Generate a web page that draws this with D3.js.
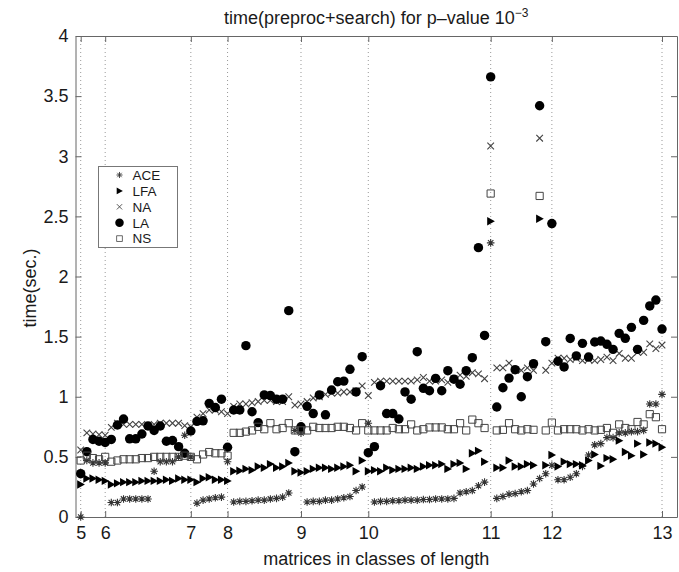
<!DOCTYPE html>
<html>
<head>
<meta charset="utf-8">
<script src="https://cdn.jsdelivr.net/npm/d3@7"></script>
<style>
body { margin: 0; background: #fff; }
text { font-family: "Liberation Sans", Arial, Helvetica, sans-serif; fill: #1a1a1a; }
</style>
</head>
<body>
<div id="drawArea"></div>
<script>
// class labels and the matrix index where each class starts
var classLabels = ["5", "6", "7", "8", "9", "10", "11", "12", "13"];
var classStart = [1, 5, 19, 25, 37, 48, 68, 78, 96];
var yTicks = [0, 0.5, 1, 1.5, 2, 2.5, 3, 3.5, 4];
var yTickLabels = ["0", "0.5", "1", "1.5", "2", "2.5", "3", "3.5", "4"];

// time (sec.) per matrix, one value per matrix index 1..96
var ace = [0.0, 0.47, 0.45, 0.45, 0.45,
	0.12, 0.12, 0.15, 0.15, 0.15, 0.15, 0.15, 0.38, 0.46, 0.46, 0.46, 0.5, 0.68,
	0.5, 0.115, 0.14, 0.15, 0.16, 0.165,
	0.46, 0.125, 0.13, 0.13, 0.135, 0.14, 0.14, 0.15, 0.155, 0.165, 0.2, 0.72,
	0.7, 0.125, 0.13, 0.13, 0.14, 0.14, 0.15, 0.16, 0.17, 0.22, 0.25,
	0.78, 0.125, 0.13, 0.13, 0.135, 0.135, 0.14, 0.14, 0.14, 0.145, 0.145, 0.15, 0.15, 0.15, 0.155, 0.2, 0.21, 0.22, 0.26, 0.29,
	2.28, 0.155, 0.17, 0.19, 0.195, 0.21, 0.22, 0.275, 0.32, 0.36,
	0.43, 0.31, 0.31, 0.33, 0.36, 0.42, 0.515, 0.6, 0.61, 0.66, 0.66, 0.70, 0.70, 0.71, 0.71, 0.72, 0.94, 0.94, 1.02];

var lfa = [0.27, 0.32, 0.32, 0.31, 0.30,
	0.27, 0.28, 0.29, 0.29, 0.29, 0.30, 0.30, 0.30, 0.30, 0.31, 0.30, 0.32, 0.31,
	0.31, 0.29, 0.32, 0.33, 0.31, 0.31,
	0.30, 0.38, 0.385, 0.40, 0.39, 0.42, 0.41, 0.44, 0.41, 0.42, 0.45, 0.38,
	0.37, 0.38, 0.40, 0.41, 0.41, 0.40, 0.41, 0.42, 0.43, 0.38, 0.47,
	0.38, 0.39, 0.38, 0.41, 0.39, 0.40, 0.40, 0.41, 0.40, 0.42, 0.43, 0.43, 0.44, 0.40, 0.44, 0.45, 0.40, 0.53, 0.55, 0.46,
	2.46, 0.41, 0.41, 0.47, 0.42, 0.42, 0.44, 0.43, 2.48, 0.43,
	0.515, 0.42, 0.46, 0.44, 0.44, 0.43, 0.47, 0.52, 0.425, 0.49, 0.48, 0.635, 0.54, 0.51, 0.61, 0.52, 0.62, 0.61, 0.58];

var na = [0.557, 0.70, 0.69, 0.685, 0.68,
	0.745, 0.78, 0.77, 0.77, 0.77, 0.77, 0.76, 0.77, 0.78, 0.78, 0.78, 0.78, 0.76,
	0.75, 0.83, 0.86, 0.89, 0.89, 0.875,
	0.86, 0.92, 0.94, 0.94, 0.95, 0.96, 0.97, 0.97, 0.96, 0.96, 1.0, 0.93,
	0.94, 0.96, 0.99, 1.0, 1.02, 1.03, 1.03, 1.04, 1.04, 1.05, 1.09,
	1.01, 1.12, 1.13, 1.13, 1.13, 1.13, 1.13, 1.13, 1.14, 1.16, 1.13, 1.13, 1.14, 1.12, 1.15, 1.18, 1.17, 1.2, 1.19, 1.15,
	3.085, 1.24, 1.24, 1.28, 1.22, 1.22, 1.24, 1.22, 3.15, 1.22,
	1.28, 1.32, 1.32, 1.31, 1.32, 1.30, 1.31, 1.30, 1.31, 1.33, 1.30, 1.36, 1.32, 1.32, 1.37, 1.37, 1.44, 1.40, 1.43];

var la = [0.36, 0.543, 0.645, 0.63, 0.62,
	0.645, 0.765, 0.815, 0.65, 0.65, 0.69, 0.757, 0.72, 0.757, 0.63, 0.636, 0.585, 0.53,
	0.715, 0.795, 0.80, 0.945, 0.91, 0.98,
	0.58, 0.89, 0.89, 1.425, 0.875, 0.785, 1.015, 1.01, 0.98, 0.98, 1.716, 0.543,
	0.75, 0.92, 0.86, 1.015, 0.85, 1.056, 1.125, 1.13, 1.228, 1.04, 1.333,
	0.535, 0.585, 1.092, 0.86, 0.86, 0.815, 1.04, 0.98, 1.375, 1.07, 1.05, 1.153, 1.05, 1.217, 1.146, 1.104, 1.217, 1.325, 2.24, 1.51,
	3.66, 0.915, 1.075, 1.155, 1.225, 1.0, 1.167, 1.275, 3.42, 1.458,
	2.44, 1.295, 1.248, 1.485, 1.34, 1.444, 1.33, 1.455, 1.463, 1.436, 1.394, 1.527, 1.486, 1.577, 1.394, 1.635, 1.755, 1.804, 1.563];

var ns = [0.47, 0.51, 0.49, 0.48, 0.50,
	0.46, 0.47, 0.48, 0.48, 0.48, 0.49, 0.49, 0.50, 0.50, 0.50, 0.50, 0.50, 0.51,
	0.50, 0.48, 0.52, 0.54, 0.53, 0.53,
	0.51, 0.70, 0.70, 0.71, 0.72, 0.75, 0.73, 0.78, 0.73, 0.74, 0.78, 0.72,
	0.72, 0.72, 0.75, 0.74, 0.74, 0.74, 0.75, 0.75, 0.74, 0.72, 0.78,
	0.72, 0.72, 0.72, 0.72, 0.74, 0.73, 0.73, 0.77, 0.72, 0.73, 0.745, 0.745, 0.745, 0.73, 0.73, 0.78, 0.72, 0.81, 0.78, 0.74,
	2.69, 0.72, 0.725, 0.78, 0.73, 0.72, 0.73, 0.725, 2.67, 0.72,
	0.785, 0.72, 0.73, 0.73, 0.73, 0.72, 0.73, 0.72, 0.725, 0.74, 0.70, 0.77, 0.74, 0.73, 0.79, 0.77, 0.855, 0.83, 0.73];

var seriesNames = ["ACE", "LFA", "NA", "LA", "NS"];
var seriesValues = [ace, lfa, na, la, ns];

// marker shapes, relative to the point
var markers = {
	"ACE": { d: "M-3.8,0H3.8M0,-3.8V3.8M-2.7,-2.7L2.7,2.7M-2.7,2.7L2.7,-2.7", fill: "none", stroke: "#333", width: 1.1 },
	"LFA": { d: "M-3.5,-4.2L4.2,0L-3.5,4.2Z", fill: "#000", stroke: "none", width: 0 },
	"NA":  { d: "M-3.3,-3.3L3.3,3.3M-3.3,3.3L3.3,-3.3", fill: "none", stroke: "#444", width: 1.1 },
	"LA":  { d: d3.symbol(d3.symbolCircle, 70)(), fill: "#000", stroke: "none", width: 0 },
	"NS":  { d: "M-3.6,-3.6H3.6V3.6H-3.6Z", fill: "none", stroke: "#444", width: 1 }
};

var width = 679, height = 572;
var margin = { left: 75.5, right: 2, top: 36, bottom: 55 };
var axisColor = "#666";

var svg = d3.select("#drawArea").append("svg")
	.attr("width", width)
	.attr("height", height);

var x = d3.scaleLinear().domain([0.15, 98.45]).range([margin.left, width - margin.right]);
var y = d3.scaleLinear().domain([0, 4]).range([height - margin.bottom, margin.top]);

// vertical dotted grid at class boundaries
svg.append("g")
	.selectAll("line")
	.data(classStart)
	.enter().append("line")
		.attr("x1", function(d) { return x(d); })
		.attr("x2", function(d) { return x(d); })
		.attr("y1", y(4))
		.attr("y2", y(0))
		.attr("stroke", "#999")
		.attr("stroke-width", 1)
		.attr("stroke-dasharray", "1,3");

function styleAxis(g) {
	g.selectAll("path").attr("stroke", axisColor);
	g.selectAll("line").attr("stroke", axisColor);
	g.selectAll("text")
		.attr("font-family", "Liberation Sans, Arial, sans-serif")
		.attr("font-size", 18)
		.attr("fill", "#1a1a1a");
}

var xAxis = d3.axisBottom(x)
	.tickValues(classStart)
	.tickFormat(function(d, i) { return classLabels[i]; })
	.tickSizeInner(-6)
	.tickSizeOuter(0)
	.tickPadding(9);

svg.append("g")
	.attr("transform", "translate(0," + y(0) + ")")
	.call(xAxis)
	.call(styleAxis);

svg.append("g")
	.attr("transform", "translate(0," + y(4) + ")")
	.call(d3.axisTop(x).tickValues(classStart).tickFormat("").tickSizeInner(-6).tickSizeOuter(0))
	.call(styleAxis);

var yAxis = d3.axisLeft(y)
	.tickValues(yTicks)
	.tickFormat(function(d, i) { return yTickLabels[i]; })
	.tickSizeInner(-6)
	.tickSizeOuter(0)
	.tickPadding(7);

svg.append("g")
	.attr("transform", "translate(" + x.range()[0] + ",0)")
	.call(yAxis)
	.call(styleAxis);

svg.append("g")
	.attr("transform", "translate(" + x.range()[1] + ",0)")
	.call(d3.axisRight(y).tickValues(yTicks).tickFormat("").tickSizeInner(-6).tickSizeOuter(0))
	.call(styleAxis);

svg.selectAll(".domain").attr("fill", "none");

// the points, one group per series
seriesNames.forEach(function(name, k) {
	var m = markers[name];
	svg.append("g")
		.attr("class", "series-" + name)
		.selectAll("path")
		.data(seriesValues[k])
		.enter().append("path")
			.attr("d", m.d)
			.attr("transform", function(d, i) { return "translate(" + x(i + 1) + "," + y(d) + ")"; })
			.attr("fill", m.fill)
			.attr("stroke", m.stroke)
			.attr("stroke-width", m.width);
});

// titles
var title = svg.append("text")
	.attr("x", (x.range()[0] + x.range()[1]) / 2)
	.attr("y", 24)
	.attr("text-anchor", "middle")
	.attr("font-size", 18);
title.append("tspan").text("time(preproc+search) for p\u2013value 10");
title.append("tspan")
	.attr("dy", -7)
	.attr("font-size", 12)
	.text("\u22123");

svg.append("text")
	.attr("x", (x.range()[0] + x.range()[1]) / 2)
	.attr("y", 565)
	.attr("text-anchor", "middle")
	.attr("font-size", 18)
	.text("matrices in classes of length");

svg.append("text")
	.attr("transform", "translate(36,288) rotate(-90)")
	.attr("text-anchor", "middle")
	.attr("font-size", 18)
	.text("time(sec.)");

// legend
var legend = svg.append("g").attr("transform", "translate(98.5,166.5)");
legend.append("rect")
	.attr("width", 79)
	.attr("height", 81)
	.attr("fill", "#fff")
	.attr("stroke", "#777")
	.attr("stroke-width", 1);

var rows = legend.selectAll("g.row")
	.data(seriesNames)
	.enter().append("g")
		.attr("class", "row")
		.attr("transform", function(d, i) { return "translate(0," + (8.5 + i * 15.9) + ")"; });

rows.append("path")
	.attr("d", function(d) { return markers[d].d; })
	.attr("transform", function(d) { return d == "LA" ? "translate(21,0) scale(0.9)" : "translate(21,0) scale(0.8)"; })
	.attr("fill", function(d) { return markers[d].fill; })
	.attr("stroke", function(d) { return markers[d].stroke; })
	.attr("stroke-width", function(d) { return markers[d].width; });

rows.append("text")
	.attr("x", 34)
	.attr("y", 0)
	.attr("dy", "0.36em")
	.attr("font-size", 13.5)
	.text(function(d) { return d; });
</script>
</body>
</html>
